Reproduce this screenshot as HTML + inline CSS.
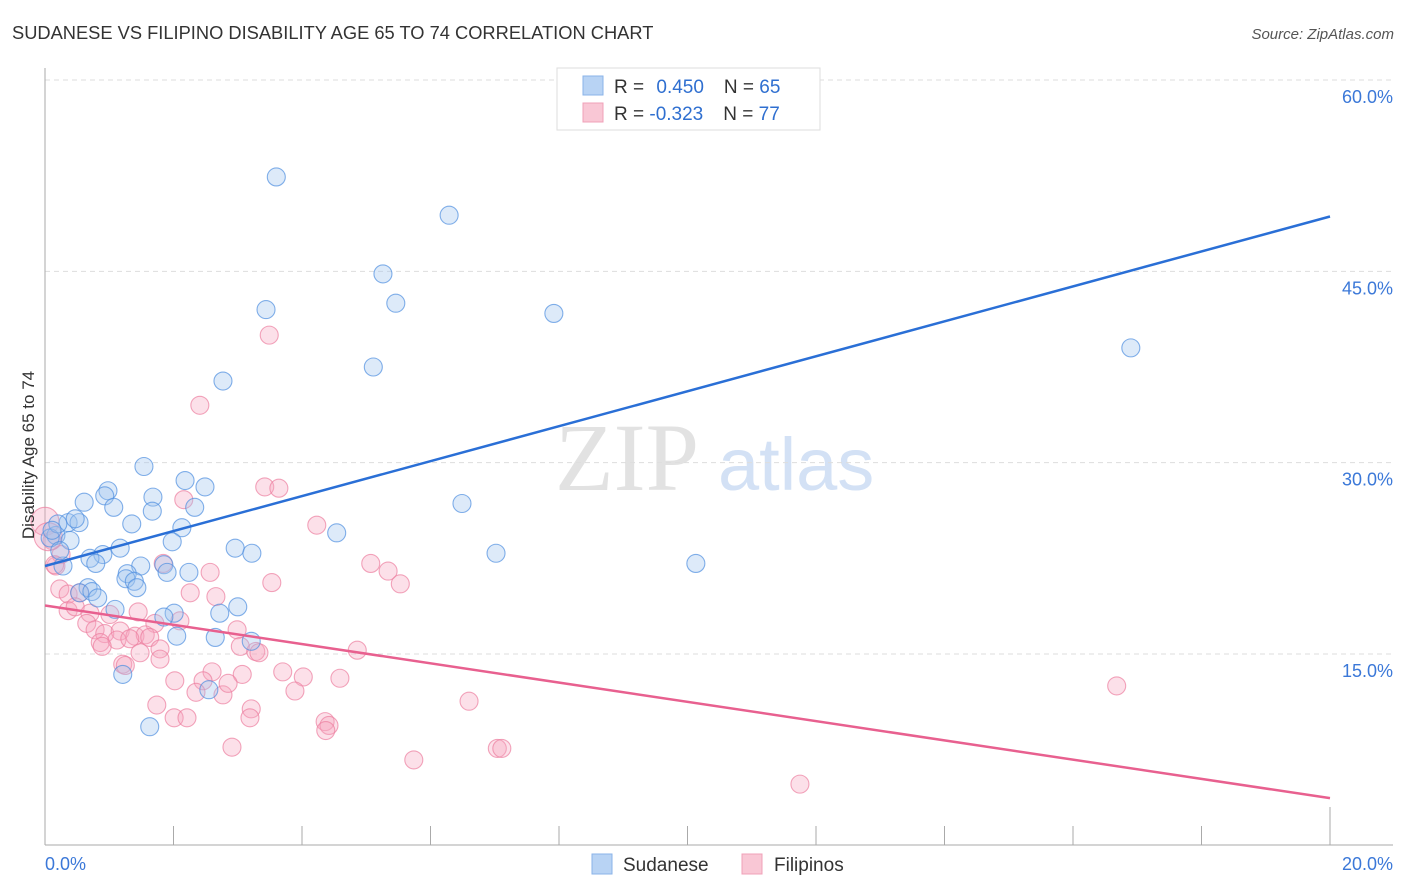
<!DOCTYPE html>
<html><head><meta charset="utf-8"><style>
body{margin:0;background:#fff;font-family:"Liberation Sans",sans-serif}
svg{display:block}
</style></head><body>
<svg id="chart" width="1406" height="892" viewBox="0 0 1406 892">
<text x="12" y="39" font-size="18.3" fill="#333">SUDANESE VS FILIPINO DISABILITY AGE 65 TO 74 CORRELATION CHART</text>
<text x="1394" y="39" font-size="15" fill="#555" font-style="italic" text-anchor="end">Source: ZipAtlas.com</text>
<g>
<text x="555" y="490" font-size="96" font-family="Liberation Serif,serif" fill="#e2e2e2">ZIP</text>
<text x="718" y="490" font-size="74" fill="#d3e1f5">atlas</text>
</g>
<g id="grid"></g>
<g id="axes"></g>
<g id="pts"></g>
<g id="lines"></g>
<text x="34" y="455" font-size="17" fill="#333" text-anchor="middle" transform="rotate(-90 34 455)">Disability Age 65 to 74</text>
<g>
<rect x="557" y="68" width="263" height="62" fill="#fff" stroke="#ddd"/>
<rect x="583" y="76" width="20" height="19" fill="#b8d3f4" stroke="#8ab3e8"/>
<rect x="583" y="103" width="20" height="19" fill="#f9c7d5" stroke="#f0a0b8"/>
<text x="614" y="93" font-size="19" fill="#333">R = <tspan fill="#2f6fd0" dx="7">0.450</tspan><tspan dx="20">N = </tspan><tspan fill="#2f6fd0">65</tspan></text>
<text x="614" y="120" font-size="19" fill="#333">R = <tspan fill="#2f6fd0">-0.323</tspan><tspan dx="20">N = </tspan><tspan fill="#2f6fd0">77</tspan></text>
</g>
<g>
<rect x="592" y="854" width="20" height="20" fill="#b8d3f4" stroke="#8ab3e8"/>
<text x="623" y="871" font-size="19" fill="#333">Sudanese</text>
<rect x="742" y="854" width="20" height="20" fill="#f9c7d5" stroke="#f0a0b8"/>
<text x="774" y="871" font-size="19" fill="#333">Filipinos</text>
</g>
</svg>
<script>
const yTicks=[15,30,45,60];
const xTickLabels=["0.0%","20.0%"];
const blueX=[3.60,6.29,5.26,3.44,5.46,7.92,16.90,5.11,2.77,1.54,6.49,2.18,2.49,0.98,0.93,1.68,0.61,1.07,1.67,2.33,0.36,0.53,1.35,2.13,0.17,0.08,4.54,0.39,1.17,2.96,3.22,0.90,0.70,7.02,1.98,10.13,1.49,1.85,0.28,0.79,1.28,1.90,2.24,1.26,1.39,1.43,0.67,0.54,0.73,0.82,3.00,1.09,2.72,2.01,1.85,2.65,2.05,3.21,1.21,2.55,1.63,0.20,0.11,0.23,0.47];
const blueY=[52.4,49.4,44.8,42.0,42.5,41.7,39.0,37.5,36.4,29.7,26.8,28.6,28.1,27.8,27.4,27.3,26.9,26.5,26.2,26.5,25.3,25.3,25.2,24.9,24.3,24.1,24.5,23.9,23.3,23.3,22.9,22.8,22.5,22.9,23.8,22.1,21.9,22.0,21.9,22.1,21.3,21.4,21.4,20.9,20.7,20.2,20.2,19.8,19.9,19.4,18.7,18.5,18.2,18.2,17.9,16.3,16.4,16.0,13.4,12.2,9.3,25.2,24.7,23.1,25.6];
const pinkX=[3.49,2.41,3.42,3.64,2.16,4.23,5.07,5.34,5.53,3.53,1.84,2.57,2.26,2.66,0.17,0.25,0.0,0.11,0.23,0.36,0.54,0.36,0.47,0.70,1.01,1.45,1.71,2.10,0.65,0.78,0.93,1.17,1.40,1.56,1.63,0.86,1.12,1.32,1.79,0.89,2.99,3.04,3.28,3.33,4.86,1.79,1.21,2.60,3.07,3.70,4.02,4.59,2.02,2.46,2.35,2.77,2.85,3.89,6.60,1.74,3.21,3.19,2.01,2.21,4.36,4.42,4.37,2.91,7.04,7.11,5.74,16.68,11.75,1.25,1.48,0.05,0.15];
const pinkY=[40.0,34.5,28.1,28.0,27.1,25.1,22.1,21.5,20.5,20.6,22.1,21.4,19.8,19.5,21.9,22.8,25.4,23.9,20.1,19.7,19.8,18.4,18.7,18.2,18.1,18.3,17.4,17.6,17.4,16.9,16.6,16.8,16.4,16.5,16.3,15.9,16.1,16.2,15.4,15.6,16.9,15.6,15.2,15.1,15.3,14.6,14.2,13.6,13.4,13.6,13.2,13.1,12.9,12.9,12.0,11.8,12.7,12.1,11.3,11.0,10.7,10.0,10.0,10.0,9.7,9.4,9.0,7.7,7.6,7.6,6.7,12.5,4.8,14.1,15.1,24.2,22.0];
const blueTrend=[21.9,49.3];
const pinkTrend=[18.8,3.7];
const X=v=>45+v*64.25, Y=v=>80+(60-v)*12.756;
const NS="http://www.w3.org/2000/svg";
function mk(t,a,p){const e=document.createElementNS(NS,t);for(const k in a)e.setAttribute(k,a[k]);p.appendChild(e);return e;}
const grid=document.getElementById('grid'),axes=document.getElementById('axes'),pts=document.getElementById('pts'),lines=document.getElementById('lines');
yTicks.forEach(t=>{
 const l=mk('line',{x1:45,x2:1393,y1:Y(t),y2:Y(t),stroke:'#ddd','stroke-dasharray':'5,4'},grid);
 
 
 const tx=mk('text',{x:1393,y:Y(t)+23,'font-size':18,fill:'#3b78d8','text-anchor':'end'},grid);
 tx.textContent=t.toFixed(1)+'%';
 
 
});
mk('line',{x1:45,x2:45,y1:68,y2:845,stroke:'#aaa'},axes);
mk('line',{x1:45,x2:1393,y1:845,y2:845,stroke:'#aaa'},axes);
for(let i=1;i<=10;i++){const t=mk('line',{x1:X(i*2),x2:X(i*2),y1:i==10?807:826,y2:845,stroke:'#aaa'},axes);
 
 }
const xl0=mk('text',{x:45,y:870,'font-size':18,fill:'#3b78d8'},axes);xl0.textContent=xTickLabels[0];


const xl1=mk('text',{x:1393,y:870,'font-size':18,fill:'#3b78d8','text-anchor':'end'},axes);xl1.textContent=xTickLabels[1];


function dots(xs,ys,fill,stroke,name){xs.forEach((x,i)=>{
 const big=x<0.06;
 const c=mk('circle',{cx:X(x),cy:Y(ys[i]),r:big?14:9,fill:fill,'fill-opacity':0.35,stroke:stroke,'stroke-opacity':0.7,'stroke-width':1.1},pts);
 
 
});}
dots(pinkX,pinkY,'#f7a7bf','#ec7fa0','point-filipinos');
dots(blueX,blueY,'#9fc2ef','#4f8ee0','point-sudanese');
const bl=mk('line',{x1:X(0),y1:Y(blueTrend[0]),x2:X(20),y2:Y(blueTrend[1]),stroke:'#2a6fd6','stroke-width':2.5},lines);


const pl=mk('line',{x1:X(0),y1:Y(pinkTrend[0]),x2:X(20),y2:Y(pinkTrend[1]),stroke:'#e8608f','stroke-width':2.5},lines);


</script>
</body></html>
